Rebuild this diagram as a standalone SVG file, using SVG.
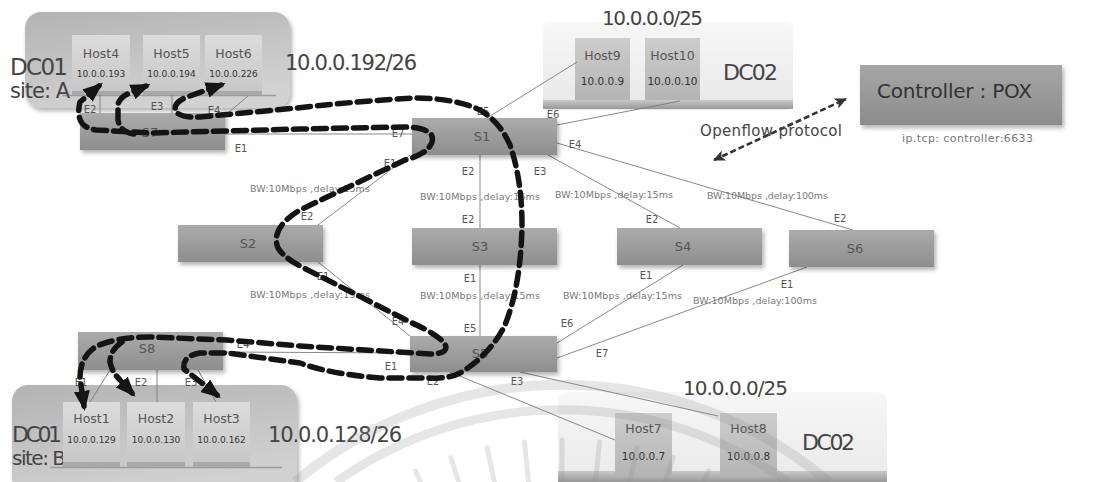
<svg xmlns="http://www.w3.org/2000/svg" width="1096" height="482" viewBox="0 0 1096 482">
  <defs>
    <linearGradient id="gSw" x1="0" y1="0" x2="0" y2="1">
      <stop offset="0" stop-color="#ababab"/>
      <stop offset="1" stop-color="#8e8e8e"/>
    </linearGradient>
    <linearGradient id="gHost" x1="0" y1="0" x2="0" y2="1">
      <stop offset="0" stop-color="#dcdcdc"/>
      <stop offset="1" stop-color="#c6c6c6"/>
    </linearGradient>
    <linearGradient id="gHostDark" x1="0" y1="0" x2="0" y2="1">
      <stop offset="0" stop-color="#cdcdcd"/>
      <stop offset="1" stop-color="#b4b4b4"/>
    </linearGradient>
    <linearGradient id="gSite" x1="0" y1="0" x2="0.4" y2="1">
      <stop offset="0" stop-color="#b3b3b3"/>
      <stop offset="1" stop-color="#d2d2d2"/>
    </linearGradient>
    <linearGradient id="gDc02" x1="0" y1="0" x2="0" y2="1">
      <stop offset="0" stop-color="#f7f7f7"/>
      <stop offset="1" stop-color="#e8e8e8"/>
    </linearGradient>
    <linearGradient id="gShelf" x1="0" y1="0" x2="0" y2="1">
      <stop offset="0" stop-color="#c9c9c9"/>
      <stop offset="1" stop-color="#989898"/>
    </linearGradient>
    <linearGradient id="gCtl" x1="0" y1="0" x2="0" y2="1">
      <stop offset="0" stop-color="#a6a6a6"/>
      <stop offset="1" stop-color="#8c8c8c"/>
    </linearGradient>
    <filter id="shadow" x="-10%" y="-20%" width="130%" height="160%">
      <feDropShadow dx="2" dy="3" stdDeviation="2" flood-color="#000" flood-opacity="0.3"/>
    </filter>
    <marker id="ah" markerUnits="userSpaceOnUse" markerWidth="21" markerHeight="18" refX="15" refY="9" orient="auto-start-reverse">
      <path d="M0,1 L20,9 L0,17 z" fill="#151515"/>
    </marker>
    <marker id="ahThin" markerUnits="userSpaceOnUse" markerWidth="13" markerHeight="11" refX="11" refY="5.5" orient="auto-start-reverse">
      <path d="M0,0 L12,5.5 L0,11 L3,5.5 z" fill="#333"/>
    </marker>
  </defs>
  <style>
    text { font-family: "DejaVu Sans", "Liberation Sans", sans-serif; }
    .site { fill: url(#gSite); filter: url(#shadow); }
    .dc02 { fill: url(#gDc02); }
    .shelf { fill: url(#gShelf); }
    .sw rect { fill: url(#gSw); filter: url(#shadow); }
    .sw text { font-size: 13px; fill: #555; text-anchor: middle; }
    .host rect.box { fill: url(#gHost); }
    .host rect.dark { fill: url(#gHostDark); }
    .host rect.base { fill: #a9a9a9; }
    .hn { font-size: 12.5px; fill: #555; text-anchor: middle; }
    .ip { font-size: 9px; fill: #333; text-anchor: middle; }
    .ipl { font-size: 10.5px; fill: #333; text-anchor: middle; }
    .link { stroke: #7a7a7a; stroke-width: 0.9; fill: none; }
    .port { font-size: 10px; fill: #555; text-anchor: middle; }
    .bw { font-size: 9.5px; fill: #777; }
    .big { fill: #444; }
    .flow { stroke: #141414; stroke-width: 5.5; fill: none; stroke-dasharray: 13 7; stroke-linecap: round; stroke-linejoin: round; }
  </style>

  <rect width="1096" height="482" fill="#fff"/>

  <!-- DC01 site A -->
  <g id="site-a">
    <rect class="site" x="25" y="12" width="265" height="96" rx="16"/>
    <line x1="62" y1="95.5" x2="276" y2="95.5" stroke="#9c9c9c" stroke-width="1.5"/>
    <text class="big" x="10" y="75" font-size="23" textLength="58">DC01</text>
    <text class="big" x="10" y="98" font-size="21" textLength="60">site: A</text>
    <text class="big" x="285" y="70" font-size="21" textLength="132">10.0.0.192/26</text>
  </g>
  <g id="host4" class="host">
    <rect class="box" x="72" y="35" width="58" height="60"/>
    <rect class="base" x="72" y="91" width="58" height="4"/>
    <text class="hn" x="101" y="58">Host4</text>
    <text class="ip" x="101" y="77">10.0.0.193</text>
  </g>
  <g id="host5" class="host">
    <rect class="box" x="143" y="35" width="57" height="60"/>
    <rect class="base" x="143" y="91" width="57" height="4"/>
    <text class="hn" x="171.5" y="58">Host5</text>
    <text class="ip" x="171.5" y="77">10.0.0.194</text>
  </g>
  <g id="host6" class="host">
    <rect class="box" x="205" y="35" width="57" height="60"/>
    <rect class="base" x="205" y="91" width="57" height="4"/>
    <text class="hn" x="233.5" y="58">Host6</text>
    <text class="ip" x="233.5" y="77">10.0.0.226</text>
  </g>

  <!-- DC02 upper -->
  <g id="dc02-top">
    <rect class="dc02" x="543" y="22" width="250" height="88" rx="6"/>
    <rect class="shelf" x="543" y="100" width="250" height="9"/>
    <text class="big" x="602" y="25" font-size="20" textLength="101">10.0.0.0/25</text>
    <text class="big" x="723" y="80" font-size="22" textLength="55">DC02</text>
  </g>
  <g id="host9" class="host">
    <rect class="dark" x="575" y="38" width="55" height="62"/>
    <text class="hn" x="602.5" y="60">Host9</text>
    <text class="ipl" x="602.5" y="85">10.0.0.9</text>
  </g>
  <g id="host10" class="host">
    <rect class="dark" x="645" y="38" width="55" height="62"/>
    <text class="hn" x="672.5" y="60">Host10</text>
    <text class="ipl" x="672.5" y="85">10.0.0.10</text>
  </g>

  <!-- Controller -->
  <g id="controller">
    <rect x="860" y="65" width="202" height="60" fill="url(#gCtl)" filter="url(#shadow)"/>
    <text x="877" y="98" font-size="20" fill="#333" textLength="155">Controller : POX</text>
    <text x="902" y="142" font-size="11" fill="#777" textLength="131">ip.tcp: controller:6633</text>
  </g>

  <!-- DC01 site B -->
  <g id="site-b">
    <rect class="site" x="12" y="385" width="285" height="110" rx="16"/>
    <line x1="50" y1="467.5" x2="282" y2="467.5" stroke="#9c9c9c" stroke-width="1.5"/>
    <text class="big" x="12" y="442" font-size="22" textLength="50">DC01</text>
    <text class="big" x="12" y="465" font-size="20" textLength="54">site: B</text>
    <text class="big" x="268" y="442" font-size="21" textLength="134">10.0.0.128/26</text>
  </g>
  <g id="host1" class="host">
    <rect class="box" x="63" y="402" width="57" height="65"/>
    <rect class="base" x="63" y="462" width="57" height="5"/>
    <text class="hn" x="91.5" y="423">Host1</text>
    <text class="ip" x="91.5" y="443">10.0.0.129</text>
  </g>
  <g id="host2" class="host">
    <rect class="box" x="127" y="402" width="58" height="65"/>
    <rect class="base" x="127" y="462" width="58" height="5"/>
    <text class="hn" x="156" y="423">Host2</text>
    <text class="ip" x="156" y="443">10.0.0.130</text>
  </g>
  <g id="host3" class="host">
    <rect class="box" x="193" y="402" width="57" height="65"/>
    <rect class="base" x="193" y="462" width="57" height="5"/>
    <text class="hn" x="221.5" y="423">Host3</text>
    <text class="ip" x="221.5" y="443">10.0.0.162</text>
  </g>

  <!-- DC02 lower -->
  <g id="dc02-bottom">
    <rect class="dc02" x="558" y="392" width="329" height="100" rx="10"/>
    <rect class="shelf" x="558" y="471" width="329" height="11"/>
    <text class="big" x="683" y="395" font-size="20" textLength="105">10.0.0.0/25</text>
    <text class="big" x="802" y="450" font-size="22" textLength="53">DC02</text>
  </g>
  <g id="host7" class="host">
    <rect class="dark" x="615" y="413" width="57" height="64"/>
    <text class="hn" x="643.5" y="433">Host7</text>
    <text class="ipl" x="643.5" y="460">10.0.0.7</text>
  </g>
  <g id="host8" class="host">
    <rect class="dark" x="720" y="413" width="57" height="64"/>
    <text class="hn" x="748.5" y="433">Host8</text>
    <text class="ipl" x="748.5" y="460">10.0.0.8</text>
  </g>

  <!-- links -->
  <g id="connectors">
    <line class="link" x1="100" y1="95" x2="100" y2="113"/>
    <line class="link" x1="172" y1="95" x2="172" y2="113"/>
    <line class="link" x1="228" y1="113" x2="248" y2="96"/>
    <line class="link" x1="225" y1="134" x2="412" y2="134"/>
    <line class="link" x1="487" y1="118" x2="577" y2="62"/>
    <line class="link" x1="557" y1="125" x2="680" y2="101"/>
    <line class="link" x1="557" y1="143" x2="853" y2="230"/>
    <line class="link" x1="548" y1="155" x2="680" y2="228"/>
    <line class="link" x1="480" y1="155" x2="480" y2="228"/>
    <line class="link" x1="480" y1="265" x2="480" y2="336"/>
    <line class="link" x1="410" y1="155" x2="318" y2="225"/>
    <line class="link" x1="318" y1="262" x2="410" y2="336"/>
    <line class="link" x1="683" y1="265" x2="557" y2="343"/>
    <line class="link" x1="807" y1="267" x2="557" y2="358"/>
    <line class="link" x1="222" y1="352" x2="410" y2="353"/>
    <line class="link" x1="450" y1="372" x2="615" y2="440"/>
    <line class="link" x1="520" y1="372" x2="718" y2="416"/>
    <line class="link" x1="110" y1="370" x2="90" y2="402"/>
    <line class="link" x1="157" y1="370" x2="157" y2="402"/>
    <line class="link" x1="198" y1="370" x2="216" y2="402"/>
  </g>

  <!-- switches -->
  <g id="s7" class="sw"><rect x="80" y="113" width="145" height="37"/><text x="150" y="137">S7</text></g>
  <g id="s1" class="sw"><rect x="412" y="118" width="145" height="37"/><text x="482" y="141">S1</text></g>
  <g id="s2" class="sw"><rect x="178" y="225" width="145" height="37"/><text x="248" y="248">S2</text></g>
  <g id="s3" class="sw"><rect x="412" y="228" width="145" height="37"/><text x="480" y="251">S3</text></g>
  <g id="s4" class="sw"><rect x="617" y="228" width="145" height="37"/><text x="683" y="251">S4</text></g>
  <g id="s6" class="sw"><rect x="789" y="230" width="145" height="37"/><text x="855" y="253">S6</text></g>
  <g id="s5" class="sw"><rect x="410" y="336" width="147" height="36"/><text x="480" y="358">S5</text></g>
  <g id="s8" class="sw"><rect x="78" y="332" width="145" height="38"/><text x="147" y="353">S8</text></g>

  <!-- port labels -->
  <g id="ports">
    <text class="port" x="90" y="113">E2</text>
    <text class="port" x="157" y="110">E3</text>
    <text class="port" x="214" y="114">E4</text>
    <text class="port" x="241" y="152">E1</text>
    <text class="port" x="398" y="137">E7</text>
    <text class="port" x="483" y="115">E5</text>
    <text class="port" x="553" y="118">E6</text>
    <text class="port" x="575" y="148">E4</text>
    <text class="port" x="468" y="175">E2</text>
    <text class="port" x="540" y="175">E3</text>
    <text class="port" x="390" y="167">E1</text>
    <text class="port" x="307" y="220">E2</text>
    <text class="port" x="323" y="280">E1</text>
    <text class="port" x="468" y="223">E2</text>
    <text class="port" x="470" y="282">E1</text>
    <text class="port" x="652" y="223">E2</text>
    <text class="port" x="646" y="279">E1</text>
    <text class="port" x="840" y="222">E2</text>
    <text class="port" x="787" y="288">E1</text>
    <text class="port" x="398" y="325">E4</text>
    <text class="port" x="470" y="332">E5</text>
    <text class="port" x="567" y="327">E6</text>
    <text class="port" x="602" y="357">E7</text>
    <text class="port" x="391" y="370">E1</text>
    <text class="port" x="433" y="385">E2</text>
    <text class="port" x="517" y="385">E3</text>
    <text class="port" x="81" y="386">E1</text>
    <text class="port" x="141" y="386">E2</text>
    <text class="port" x="191" y="386">E3</text>
    <text class="port" x="243" y="348">E4</text>
  </g>

  <!-- link properties -->
  <g id="link-labels">
    <text class="bw" x="250" y="192" textLength="120">BW:10Mbps ,delay:15ms</text>
    <text class="bw" x="420" y="200" textLength="120">BW:10Mbps ,delay:15ms</text>
    <text class="bw" x="555" y="198" textLength="118">BW:10Mbps ,delay:15ms</text>
    <text class="bw" x="707" y="199" textLength="121">BW:10Mbps ,delay:100ms</text>
    <text class="bw" x="250" y="298" textLength="120">BW:10Mbps ,delay:15ms</text>
    <text class="bw" x="420" y="299" textLength="120">BW:10Mbps ,delay:15ms</text>
    <text class="bw" x="563" y="299" textLength="119">BW:10Mbps ,delay:15ms</text>
    <text class="bw" x="693" y="304" textLength="124">BW:10Mbps ,delay:100ms</text>
  </g>

  <!-- OpenFlow control channel -->
  <g id="openflow">
    <path d="M 714,160 L 846,99" stroke="#333" stroke-width="2.6" stroke-dasharray="6 3" fill="none" marker-start="url(#ahThin)" marker-end="url(#ahThin)"/>
    <text x="700" y="136" font-size="15" fill="#444" textLength="142">Openflow protocol</text>
  </g>

  <!-- traffic paths -->
  <g id="flows">
    <path class="flow" marker-start="url(#ah)" marker-end="url(#ah)" d="M 99,86 L 80,102 Q 74,127 96,130 L 150,133 L 300,129 L 405,127 Q 436,128 432,142 Q 428,154 405,160 L 300,210 Q 270,228 278,248 Q 284,258 302,267 L 410,322 Q 444,337 446,347 Q 446,354 430,354 L 300,346 L 227,340 L 150,337 Q 118,337 97,346 Q 80,356 80,378 L 84,406"/>
    <path class="flow" marker-end="url(#ah)" d="M 134,134 Q 120,132 118,120 L 118,104 Q 121,96 130,93 L 146,86"/>
    <path class="flow" marker-end="url(#ah)" d="M 122,342 Q 110,350 110,362 Q 112,372 120,380 L 132,393"/>
    <path class="flow" marker-start="url(#ah)" marker-end="url(#ah)" d="M 221,85 L 187,97 Q 172,103 176,112 Q 182,118 200,117 L 297,108 Q 360,101 413,98 Q 455,98 480,110 Q 500,122 510,145 Q 522,180 522,225 Q 521,285 505,325 Q 490,355 460,373 Q 448,379 430,378 L 380,378 Q 330,374 300,363 L 227,353 L 200,353 Q 182,356 184,369 L 217,395"/>
  </g>

  <!-- seal in background -->
  <g id="seal" fill="none" stroke="#8c8c8c" stroke-opacity="0.22">
    <path d="M 295,482 A 415 415 0 0 1 829,482" stroke-width="10"/>
    <path d="M 336,482 A 390 390 0 0 1 788,482" stroke-width="9"/>
    <g stroke-width="5" stroke-linecap="round">
      <line x1="562" y1="480" x2="562" y2="440"/>
      <line x1="595.4" y1="481.8" x2="599.6" y2="442"/>
      <line x1="528.6" y1="481.8" x2="524.4" y2="442"/>
      <line x1="628.5" y1="487" x2="636.8" y2="447.9"/>
      <line x1="495.5" y1="487" x2="487.2" y2="447.9"/>
      <line x1="660.9" y1="495.7" x2="673.2" y2="457.6"/>
      <line x1="463.1" y1="495.7" x2="450.8" y2="457.6"/>
      <line x1="692.2" y1="507.7" x2="708.4" y2="471.1"/>
      <line x1="431.8" y1="507.7" x2="415.6" y2="471.1"/>
    </g>
  </g>
</svg>
